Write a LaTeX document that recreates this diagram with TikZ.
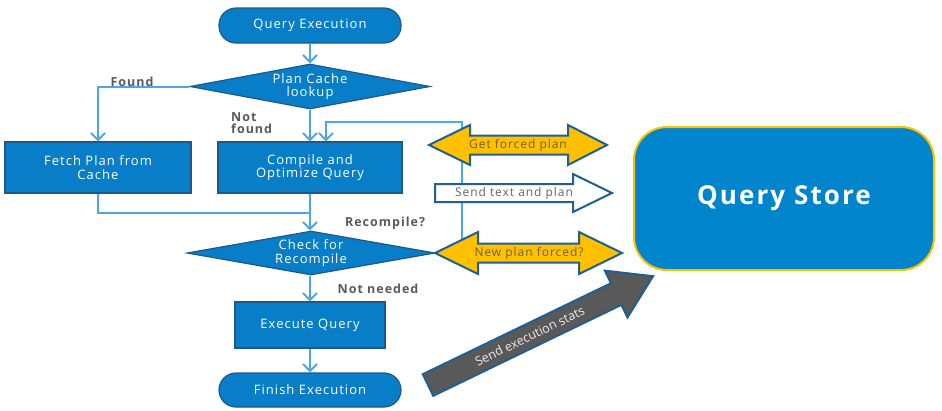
\documentclass[tikz,border=0pt]{standalone}
\usepackage{fontspec}
\setmainfont{Open Sans}[LetterSpace=8]
\newfontfamily\plainfont{Open Sans}
\usetikzlibrary{shapes.geometric,arrows.meta}
\definecolor{boxfill}{RGB}{8,126,200}
\definecolor{boxborder}{RGB}{30,88,138}
\definecolor{connblue}{RGB}{77,166,230}
\definecolor{yel}{RGB}{255,192,0}
\definecolor{arrowborder}{RGB}{31,95,145}
\definecolor{qsfill}{RGB}{0,132,204}
\definecolor{statsgray}{RGB}{89,89,89}
\definecolor{lblgray}{RGB}{89,89,89}
\definecolor{yeltext}{RGB}{115,95,40}
\definecolor{graytext}{RGB}{100,100,100}
\begin{document}
\begin{tikzpicture}[x=1pt,y=-1pt,
  flowbox/.style={draw=boxborder,line width=1.2pt,fill=boxfill,text=white,
    font=\fontsize{13}{13.5}\selectfont,align=center,inner sep=0pt},
  rectbox/.style={flowbox,rectangle},
  stadium/.style={flowbox,rectangle,rounded corners=17pt},
  decision/.style={flowbox,diamond,aspect=5.3},
  conn/.style={draw=connblue,line width=2pt},
  flow/.style={conn,-{Straight Barb[length=7pt,width=14pt]}},
  lbl/.style={text=lblgray,font=\bfseries\fontsize{12.5}{12.5}\selectfont,inner sep=0pt},
  bigarrow/.style={draw=arrowborder,line width=2pt,line join=miter},
  arrowtext/.style={font=\fontsize{12}{13}\selectfont,inner sep=0pt},
]
\useasboundingbox (0,0) rectangle (942,410);

% flowchart nodes
\node[stadium,minimum width=182pt,minimum height=35pt] (qe) at (310,25.5) {Query Execution};
\node[decision,minimum width=240pt,minimum height=45pt] (pcl) at (310,86.5) {Plan Cache\\lookup};
\node[rectbox,minimum width=186pt,minimum height=51pt] (fetch) at (98,167.5) {Fetch Plan from\\Cache};
\node[rectbox,minimum width=184pt,minimum height=51pt] (compile) at (310,167.5) {Compile and\\Optimize Query};
\node[decision,minimum width=248pt,minimum height=44pt] (check) at (311,253) {Check for\\Recompile};
\node[rectbox,minimum width=150pt,minimum height=46pt] (exec) at (310,325) {Execute Query};
\node[stadium,minimum width=182pt,minimum height=34pt] (finish) at (310,390) {Finish Execution};

% labels
\node[lbl] (found) at (132,82) {Found};
\node[lbl,align=left,anchor=west] (notfound) at (231,123) {Not\\found};
\node[lbl] (recomp) at (385,223) {Recompile?};
\node[lbl] (notneeded) at (378,289) {Not needed};

% connectors
\coordinate (loopstart) at (462,240);
\draw[flow] (qe.south) -- (pcl.north);
\draw[flow] (pcl.west) -| (fetch.north);
\draw[flow] (pcl.south) -- (compile.north);
\draw[flow] (loopstart) |- ([xshift=16pt,yshift=19pt]compile.north) -- ([xshift=16pt]compile.north);
\draw[conn] (fetch.south) |- ([yshift=-19pt]compile.south);
\draw[flow] (compile.south) -- (compile.south |- check.north);
\draw[flow] (check.south -| exec.north) -- (exec.north);
\draw[flow] (exec.south) -- (finish.north);

% right side arrows
\draw[bigarrow,fill=yel] (429,145) -- (470,125) -- (470,135.5) -- (568,135.5) -- (568,125) -- (607,145)
  -- (568,165) -- (568,154.5) -- (470,154.5) -- (470,165) -- cycle;
\node[arrowtext,text=yeltext] (gfp) at (518,145) {Get forced plan};

\draw[bigarrow,fill=white] (435,184) -- (573,184) -- (573,174) -- (612,193) -- (573,212) -- (573,202)
  -- (435,202) -- cycle;
\node[arrowtext,text=graytext] (stp) at (514,193) {Send text and plan};

\draw[bigarrow,fill=yel] (435,253) -- (478,232) -- (478,243.5) -- (579,243.5) -- (579,232) -- (622,253)
  -- (579,274) -- (579,262.5) -- (478,262.5) -- (478,274) -- cycle;
\node[arrowtext,text=yeltext] (npf) at (529,253) {New plan forced?};

% query store
\node[draw=yel,line width=2pt,fill=qsfill,rounded corners=33pt,minimum width=300pt,minimum height=143pt,
  text=white,font=\bfseries\fontsize{26}{28}\selectfont] (qs) at (784,198.5) {Query Store};

% stats arrow
\begin{scope}[shift={(428,385)},rotate=25.8]
  \draw[bigarrow,fill=statsgray] (0,-12) -- (209,-12) -- (209,-26) -- (250,0) -- (209,26) -- (209,12)
    -- (0,12) -- cycle;
  \node[arrowtext,text=white!85!gray,rotate=25.8,font=\plainfont\fontsize{12.5}{13}\selectfont] (ses) at (113,0) {Send execution stats};
\end{scope}
\end{tikzpicture}
\end{document}
